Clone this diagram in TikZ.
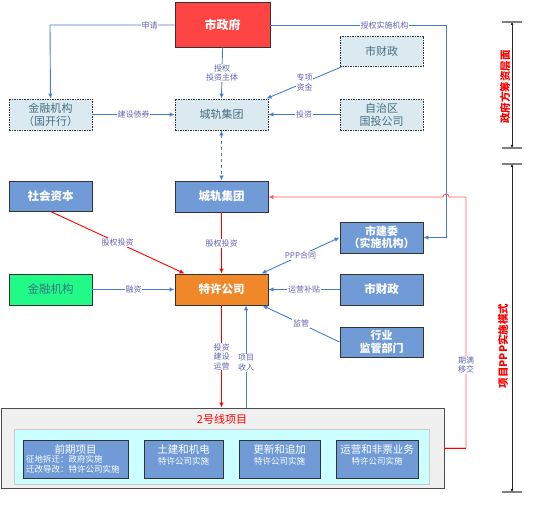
\documentclass[tikz,border=0pt]{standalone}
\usepackage{fontspec}
\setmainfont{Noto Sans CJK SC}
\usetikzlibrary{arrows.meta}
\definecolor{govred}{RGB}{255,68,68}
\definecolor{dfill}{RGB}{218,234,240}
\definecolor{dtext}{RGB}{70,110,130}
\definecolor{bfill}{RGB}{112,155,215}
\definecolor{gfill}{RGB}{34,250,136}
\definecolor{gtext}{RGB}{50,120,130}
\definecolor{ofill}{RGB}{240,136,42}
\definecolor{lblue}{RGB}{70,125,210}
\definecolor{lred}{RGB}{255,90,90}
\definecolor{lbltext}{RGB}{100,100,180}
\definecolor{outerfill}{RGB}{240,240,240}
\definecolor{innerfill}{RGB}{204,255,255}
\begin{document}
\begin{tikzpicture}[x=1pt,y=-1pt,
  box/.style={draw=black!80, line width=0.9pt, inner sep=0pt, align=center},
  dbox/.style={box, dash pattern=on 1.5pt off 1pt, fill=dfill, text=dtext, font=\fontsize{11}{13}\selectfont},
  bbox/.style={box, fill=bfill, text=white, font=\bfseries\fontsize{11.5}{13.5}\selectfont},
  pbox/.style={box, line width=0.8pt, fill=bfill, text=white},
  lbl/.style={fill=white, text=lbltext, font=\fontsize{8}{9.5}\selectfont, inner sep=0.8pt, align=center},
  bl/.style={draw=lblue, line width=0.9pt, -{Latex[length=5pt,width=4.5pt]}},
  rd/.style={draw=red, line width=0.9pt, -{Latex[length=5pt,width=4.5pt]}},
  brk/.style={draw=black!85, line width=0.9pt, {Latex[length=3pt,width=3pt]}-{Latex[length=3pt,width=3pt]}},
  bar/.style={draw=black!50, line width=1.6pt},
  side/.style={text=red, font=\bfseries\fontsize{10.5}{11}\selectfont, rotate=90, inner sep=0pt}
]
\useasboundingbox (0,0) rectangle (534,510);

% top level
\node[box, fill=govred, text=white, font=\bfseries\fontsize{12}{14}\selectfont,
  minimum width=95pt, minimum height=45pt] (gov) at (222.5,24.5) {市政府};
\node[dbox, minimum width=83pt, minimum height=31pt] (kfh) at (50.5,114.5) {金融机构\\（国开行）};
\node[dbox, minimum width=93pt, minimum height=31pt] (ctg1) at (221.5,114.5) {城轨集团};
\node[dbox, minimum width=83pt, minimum height=30pt] (czh1) at (381.5,51) {市财政};
\node[dbox, minimum width=83pt, minimum height=31pt] (zzq) at (381.5,114.5) {自治区\\国投公司};

% PPP level
\node[bbox, minimum width=83pt, minimum height=30pt] (shzb) at (50.5,196) {社会资本};
\node[bbox, minimum width=93pt, minimum height=31pt] (ctg2) at (221.5,196.5) {城轨集团};
\node[bbox, minimum width=83pt, minimum height=31pt, font=\bfseries\fontsize{11}{12.5}\selectfont] (sjw) at (381.5,237.5) {市建委\\（实施机构）};
\node[box, fill=gfill, text=gtext, font=\fontsize{11.5}{13.5}\selectfont, minimum width=83pt, minimum height=31pt] (jrjg) at (50.5,289.5) {金融机构};
\node[box, fill=ofill, text=white, font=\bfseries\fontsize{11.5}{13.5}\selectfont, minimum width=93pt, minimum height=31pt] (txgs) at (221.5,289.5) {特许公司};
\node[bbox, minimum width=83pt, minimum height=31pt] (czh2) at (381.5,289.5) {市财政};
\node[bbox, minimum width=83pt, minimum height=30pt, font=\bfseries\fontsize{11}{12.5}\selectfont] (hyjg) at (381.5,342) {行业\\监管部门};

% project boxes
\node[draw=black!70, line width=0.9pt, fill=outerfill, minimum width=443pt, minimum height=80pt, inner sep=0pt] (outer) at (222.5,448) {};
\node[draw=black!20, line width=0.8pt, fill=innerfill, minimum width=415pt, minimum height=55pt, inner sep=0pt] (inner) at (221.5,456.5) {};
\node[text=red, font=\fontsize{11}{13}\selectfont, inner sep=0pt] (xm) at (222,419) {2号线项目};
\node[pbox, minimum width=105pt, minimum height=38pt] (p1) at (75.5,459) {};
\node[text=white, font=\fontsize{10.5}{12}\selectfont, inner sep=0pt] (p1t) at (75.5,449) {前期项目};
\node[text=white, font=\fontsize{8.5}{10}\selectfont, inner sep=0pt, align=left, anchor=north west] (p1s) at (26,455.5) {征地拆迁：政府实施\\迁改导改：特许公司实施};
\node[pbox, minimum width=79pt, minimum height=38pt] (p2) at (183.5,459) {};
\node[text=white, font=\fontsize{10.5}{12}\selectfont, inner sep=0pt, align=center] (p2t) at (183.5,455) {土建和机电\\[-1pt]{\fontsize{8.5}{10}\selectfont 特许公司实施}};
\node[pbox, minimum width=81pt, minimum height=38pt] (p3) at (279.5,459) {};
\node[text=white, font=\fontsize{10.5}{12}\selectfont, inner sep=0pt, align=center] (p3t) at (279.5,455) {更新和追加\\[-1pt]{\fontsize{8.5}{10}\selectfont 特许公司实施}};
\node[pbox, minimum width=82pt, minimum height=38pt] (p4) at (377,459) {};
\node[text=white, font=\fontsize{10.5}{12}\selectfont, inner sep=0pt, align=center] (p4t) at (377,455) {运营和非票业务\\[-1pt]{\fontsize{8.5}{10}\selectfont 特许公司实施}};

% connectors top level
\coordinate (c1) at (50,25);
\draw[bl] (gov.west |- 0,25) -- (c1) node[lbl, pos=0.2] {申请} -- (kfh.north);
\draw[bl] (gov.south) -- node[lbl] {授权\\投资主体} (ctg1.north);
\coordinate (c2) at (446,25);
\draw[bl] (gov.east |- 0,25) -- (c2) node[lbl, pos=0.65] {授权实施机构} |- (sjw.east);
\draw[bl] ([xshift=3pt]czh1.south west) -- node[lbl] {专项\\资金} ([xshift=-2pt]ctg1.north east);
\draw[bl] (zzq.west) -- node[lbl] {投资} (ctg1.east);
\draw[bl] (kfh.east) -- node[lbl] {建设债券} (ctg1.west);
\draw[draw=lblue, line width=0.9pt, dashed, {Latex[length=5pt,width=4.5pt]}-{Latex[length=5pt,width=4.5pt]}] (ctg1.south) -- (ctg2.north);

% PPP connectors
\draw[rd] (shzb.south) -- node[lbl] {股权投资} ([xshift=10pt]txgs.north west);
\draw[rd] (ctg2.south) -- node[lbl] {股权投资} (txgs.north);
\draw[bl] (jrjg.east) -- node[lbl] {融资} (txgs.west);
\draw[draw=lblue, line width=0.9pt, {Latex[length=5pt,width=4.5pt]}-{Latex[length=5pt,width=4.5pt]}] (sjw.west) -- node[lbl] {PPP合同} ([xshift=-7pt]txgs.north east);
\draw[bl] (czh2.west) -- node[lbl] {运营补贴} (txgs.east);
\draw[bl] (hyjg.west) -- node[lbl] {监管} ([xshift=-6pt]txgs.south east);
\draw[rd] (txgs.south) -- node[lbl] {投资\\建设\\运营} (txgs.south |- outer.north);
\draw[bl] (outer.north -| 246,0) -- node[lbl, pos=0.44] {项目\\收入} (txgs.south -| 246,0);

% hand-over line
\coordinate (c3) at (466,448);
\coordinate (c4) at (466,197);
\draw[draw=lred, line width=0.9pt, -{Latex[length=5pt,width=4.5pt]}]
  (outer.east |- 0,448) -- (c3) -- node[lbl, pos=0.33] {期满\\移交} (c4) -- (449,197)
  .. controls (449,193) and (443,193) .. (443,197) -- (ctg2.east |- 0,197);
\draw[draw=red, line width=0.9pt] (outer.east |- 0,448) -- (c3);

% brackets
\coordinate (b1t) at (512,22);
\coordinate (b1b) at (512,148);
\coordinate (b2t) at (512,164);
\coordinate (b2b) at (512,492);
\draw[bar] (502,22) -- (522,22);
\draw[bar] (502,148) -- (522,148);
\draw[bar] (502,164) -- (522,164);
\draw[bar] (502,492) -- (522,492);
\draw[brk] (b1t) -- (b1b);
\draw[brk] (b2t) -- (b2b);
\node[side] (s1) at (505,87) {政府方筹资层面};
\node[side] (s2) at (503,346) {项目PPP实施模式};
\end{tikzpicture}
\end{document}
